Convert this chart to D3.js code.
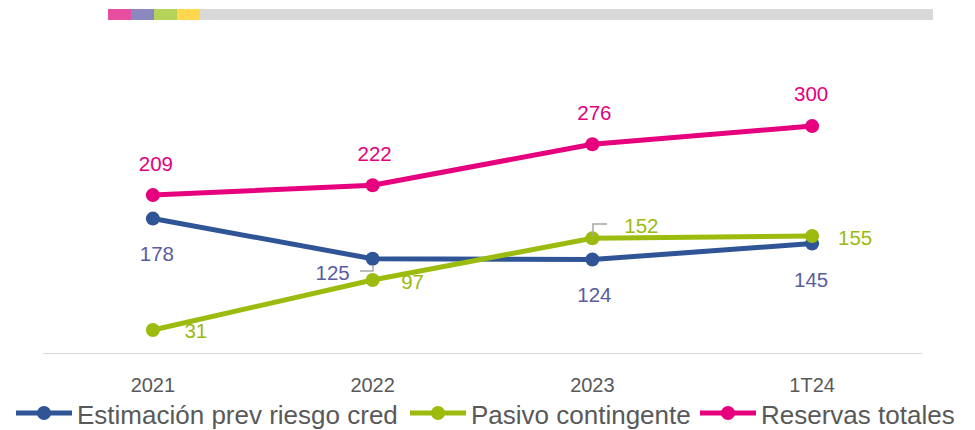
<!DOCTYPE html>
<html>
<head>
<meta charset="utf-8">
<script src="https://cdn.jsdelivr.net/npm/d3@7"></script>
<style>
  body { margin: 0; background: #fff; }
  svg { display: block; font-family: "Liberation Sans", Arial, sans-serif; }
</style>
</head>
<body>
<div id="chart"></div>
<script>
// Categorías y series
const categories = ["2021", "2022", "2023", "1T24"];
const estimacion = [178, 125, 124, 145];
const pasivo = [31, 97, 152, 155];
const reservas = [209, 222, 276, 300];
const seriesNames = ["Estimación prev riesgo cred", "Pasivo contingente", "Reservas totales"];
const barColors = ["#E84EA0", "#8B87BF", "#B5D35A", "#FFD84D"];

const width = 975, height = 430;
const colors = ["#2F5597", "#9BBB0F", "#E6007E"];
const labelColors = ["#5A5DA0", "#9BBB0F", "#E6007E"];

const svg = d3.select("#chart").append("svg")
    .attr("width", width)
    .attr("height", height);

// Barra decorativa superior
svg.append("rect")
    .attr("x", 108).attr("y", 9).attr("width", 825).attr("height", 11)
    .attr("fill", "#D9D9D9");
svg.selectAll("rect.deco")
    .data(barColors)
    .join("rect")
    .attr("class", "deco")
    .attr("x", (d, i) => 108 + i * 23)
    .attr("y", 9).attr("width", 23).attr("height", 11)
    .attr("fill", d => d);

// Escalas
const x = d3.scaleBand().domain(categories).range([43, 922]);
const y = d3.scaleLinear().domain([0, 400]).range([353.5, 50.3]);
const cx = d => x(d) + x.bandwidth() / 2;

// Eje X
svg.append("line")
    .attr("x1", 43).attr("x2", 922)
    .attr("y1", y(0)).attr("y2", y(0))
    .attr("stroke", "#D9D9D9").attr("stroke-width", 1);

svg.selectAll("text.tick")
    .data(categories)
    .join("text")
    .attr("class", "tick")
    .attr("x", d => cx(d))
    .attr("y", 392)
    .attr("text-anchor", "middle")
    .attr("font-size", 20)
    .attr("fill", "#595959")
    .text(d => d);

const allSeries = [estimacion, pasivo, reservas];
const line = d3.line().x((d, i) => cx(categories[i])).y(d => y(d));

allSeries.forEach((vals, s) => {
    svg.append("path")
        .attr("d", line(vals))
        .attr("fill", "none")
        .attr("stroke", colors[s])
        .attr("stroke-width", 5)
        .attr("stroke-linejoin", "round");
    svg.selectAll(null)
        .data(vals)
        .join("circle")
        .attr("cx", (d, i) => cx(categories[i]))
        .attr("cy", d => y(d))
        .attr("r", 7)
        .attr("fill", colors[s]);
});

// Líneas guía de las etiquetas
const guides = [
    [[373, 265], [373, 271], [360, 271]],
    [[593, 236], [593, 224], [607, 224]]
];
guides.forEach(g => {
    svg.append("path")
        .attr("d", d3.line()(g))
        .attr("fill", "none")
        .attr("stroke", "#A6A6A6")
        .attr("stroke-width", 1.5);
});

// Etiquetas de datos (desplazamientos respecto al punto)
const offsets = [
    [[4, 35], [-40, 14], [2, 35], [-1, 36]],
    [[43, 1], [40, 2], [49, -12], [43, 2]],
    [[3, -31], [2, -31], [2, -31], [-1, -32]]
];
allSeries.forEach((vals, s) => {
    svg.selectAll(null)
        .data(vals)
        .join("text")
        .attr("x", (d, i) => cx(categories[i]) + offsets[s][i][0])
        .attr("y", (d, i) => y(d) + offsets[s][i][1])
        .attr("dy", "0.35em")
        .attr("text-anchor", "middle")
        .attr("font-size", 20.5)
        .attr("fill", labelColors[s])
        .text(d => d);
});

// Leyenda
const legendX = [16, 410, 700];
const legend = svg.selectAll("g.legend")
    .data(seriesNames)
    .join("g")
    .attr("class", "legend")
    .attr("transform", (d, i) => `translate(${legendX[i]},413)`);
legend.append("line")
    .attr("x1", 0).attr("x2", 56)
    .attr("stroke", (d, i) => colors[i])
    .attr("stroke-width", 5);
legend.append("circle")
    .attr("cx", 28).attr("r", 7)
    .attr("fill", (d, i) => colors[i]);
legend.append("text")
    .attr("x", 61)
    .attr("y", 11)
    .attr("font-family", "'Liberation Sans Narrow', 'Liberation Sans', sans-serif")
    .attr("font-size", 26)
    .attr("fill", "#595959")
    .text(d => d);
</script>
</body>
</html>
